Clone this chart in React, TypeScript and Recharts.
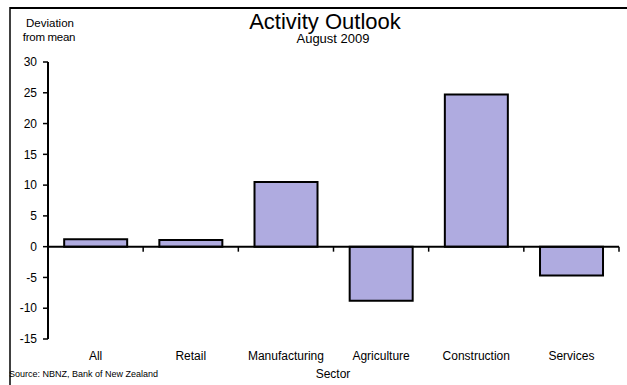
import { BarChart, Bar, XAxis, YAxis, ReferenceLine } from 'recharts';

const sectors = ['All', 'Retail', 'Manufacturing', 'Agriculture', 'Construction', 'Services'];
const deviation = [1.2, 1.1, 10.5, -8.8, 24.7, -4.7];
const yTicks = [-15, -10, -5, 0, 5, 10, 15, 20, 25, 30];

const data = sectors.map((name, i) => ({ name, value: deviation[i] }));

const FONT = '"Liberation Sans", Arial, sans-serif';
const BAR_FILL = '#AFABE0';

// zero line with small ticks between the categories, like the original
const ZeroAxis = (props: any) => {
  const { x1, x2, y1 } = props;
  const step = (x2 - x1) / sectors.length;
  return (
    <g>
      <line x1={x1} x2={x2} y1={y1} y2={y1} stroke="#000" strokeWidth={2} />
      {sectors.map((s, i) => (
        <line
          key={s}
          x1={x1 + step * (i + 1)}
          x2={x1 + step * (i + 1)}
          y1={y1}
          y2={y1 + 5}
          stroke="#000"
          strokeWidth={1.5}
        />
      ))}
    </g>
  );
};

export default function App() {
  return (
    <div style={{ position: 'absolute', left: 0, top: 0, width: 627, height: 385, background: '#fff', fontFamily: FONT }}>
      <BarChart
        width={627}
        height={385}
        data={data}
        margin={{ top: 62, right: 8, left: 0, bottom: 16 }}
        barCategoryGap="17%"
      >
        <YAxis
          width={48}
          domain={[-15, 30]}
          ticks={yTicks}
          interval={0}
          allowDataOverflow
          axisLine={{ stroke: '#000', strokeWidth: 2 }}
          tickLine={{ stroke: '#000', strokeWidth: 1.5 }}
          tickSize={5}
          tickMargin={6}
          tick={{ fill: '#000', fontSize: 12, fontFamily: FONT }}
        />
        <XAxis
          dataKey="name"
          height={30}
          axisLine={false}
          tickLine={false}
          tickSize={0}
          tickMargin={12}
          interval={0}
          tick={{ fill: '#000', fontSize: 12, fontFamily: FONT }}
        />
        <Bar dataKey="value" fill={BAR_FILL} stroke="#000" strokeWidth={2} isAnimationActive={false} />
        <ReferenceLine y={0} shape={ZeroAxis} />
      </BarChart>
      <svg
        width={627}
        height={385}
        style={{ position: 'absolute', left: 0, top: 0, pointerEvents: 'none' }}
        fontFamily={FONT}
      >
        <line x1={10} x2={627} y1={8} y2={8} stroke="#000" strokeWidth={2} />
        <line x1={10} x2={10} y1={7} y2={385} stroke="#000" strokeWidth={1.5} />
        <text x={325} y={29} textAnchor="middle" fontSize={22} fill="#000">Activity Outlook</text>
        <text x={333} y={43} textAnchor="middle" fontSize={13} fill="#000">August 2009</text>
        <text x={50} y={27} textAnchor="middle" fontSize={11.5} fill="#000">Deviation</text>
        <text x={49} y={41} textAnchor="middle" fontSize={11.5} fill="#000" letterSpacing={-0.3}>from mean</text>
        <text x={333} y={378} textAnchor="middle" fontSize={12} fill="#000">Sector</text>
        <text x={9} y={377} fontSize={9} fill="#000">Source: NBNZ, Bank of New Zealand</text>
      </svg>
    </div>
  );
}
